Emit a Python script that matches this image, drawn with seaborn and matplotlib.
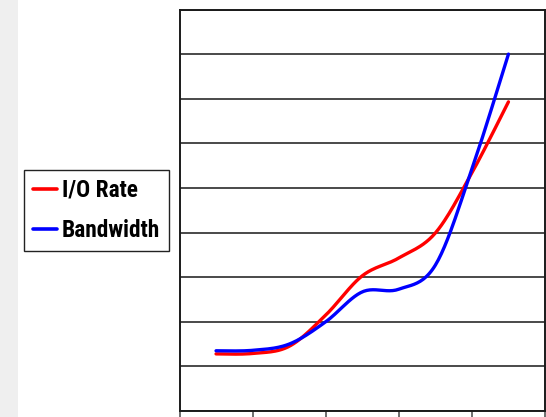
import numpy as np
import pandas as pd
import matplotlib
matplotlib.use("Agg")
import matplotlib.pyplot as plt
import seaborn as sns
from matplotlib.patches import Rectangle
from matplotlib.lines import Line2D

# Series values at nine evenly spaced sample points
periods = list(range(9))
io_rate = [1.28, 1.29, 1.45, 2.15, 3.03, 3.43, 3.99, 5.34, 6.93]
bandwidth = [1.35, 1.36, 1.50, 2.00, 2.67, 2.73, 3.27, 5.42, 8.00]
series_names = ["I/O Rate", "Bandwidth"]
series_colors = ["#ff0000", "#0000ff"]


def smooth_curve(xs, ys, steps=24):
    """Catmull-Rom style smoothed path through every point (spreadsheet 'smoothed line')."""
    pts = np.column_stack([xs, ys]).astype(float)
    padded = np.vstack([pts[0], pts, pts[-1]])
    out = []
    for i in range(1, len(padded) - 2):
        p0, p1, p2, p3 = padded[i - 1], padded[i], padded[i + 1], padded[i + 2]
        c1 = p1 + (p2 - p0) / 6.0
        c2 = p2 - (p3 - p1) / 6.0
        t = np.linspace(0, 1, steps, endpoint=(i == len(padded) - 3))[:, None]
        seg = ((1 - t) ** 3) * p1 + 3 * ((1 - t) ** 2) * t * c1 + 3 * (1 - t) * t ** 2 * c2 + t ** 3 * p2
        out.append(seg)
    out = np.vstack(out)
    return out[:, 0], out[:, 1]


frames = []
for name, vals in zip(series_names, [io_rate, bandwidth]):
    sx, sy = smooth_curve(periods, vals)
    frames.append(pd.DataFrame({"period": sx, "value": sy, "series": name}))
df = pd.concat(frames, ignore_index=True)

sns.set_theme(style="white")
plt.rcParams["font.family"] = ["Liberation Sans", "DejaVu Sans"]

fig = plt.figure(figsize=(5.46, 4.17), dpi=100)
fig.patch.set_facecolor("white")
fig.add_artist(Rectangle((0, 0), 18 / 546, 1, transform=fig.transFigure,
                         facecolor="#efefef", edgecolor="none", zorder=0))

ax = fig.add_axes([179.5 / 546, 6 / 417, (545 - 179.5) / 546, (411 - 9.5) / 417])
ax.set_facecolor("white")

sns.lineplot(data=df, x="period", y="value", hue="series", units="series",
             estimator=None, sort=False, palette=dict(zip(series_names, series_colors)),
             linewidth=2.4, legend=False, ax=ax, zorder=3)

ax.set_xlim(-1, 9)
ax.set_ylim(0, 9)
ax.set_yticks(np.arange(0, 10, 1))
ax.set_yticklabels([])
ax.set_xticks(np.arange(-1, 10, 2))
ax.set_xticklabels([])
ax.set_xlabel("")
ax.set_ylabel("")
ax.yaxis.grid(True, color="#3a3a3a", linewidth=1.3)
ax.xaxis.grid(False)
ax.tick_params(axis="y", length=0)
ax.tick_params(axis="x", direction="out", length=7, width=1.2, color="#555555", bottom=True)
for side in ["left", "right", "top", "bottom"]:
    ax.spines[side].set_visible(True)
    ax.spines[side].set_color("#1a1a1a")
    ax.spines[side].set_linewidth(1.4)

handles = [Line2D([], [], color=c, linewidth=2.6) for c in series_colors]
leg = fig.legend(handles, series_names, loc="center",
                 bbox_to_anchor=(96.5 / 546, (417 - 210.5) / 417),
                 bbox_transform=fig.transFigure,
                 prop={"family": ["Roboto Condensed", "Liberation Sans", "DejaVu Sans"],
                       "weight": "bold", "size": 16.8},
                 frameon=True, fancybox=False, framealpha=1, edgecolor="#222222",
                 handlelength=1.03, handletextpad=0.2, labelspacing=0.74,
                 borderpad=0.4, borderaxespad=0)
leg.get_frame().set_linewidth(1.0)
for t in leg.get_texts():
    t.set_color("black")

fig.savefig("out.png", dpi=100)
